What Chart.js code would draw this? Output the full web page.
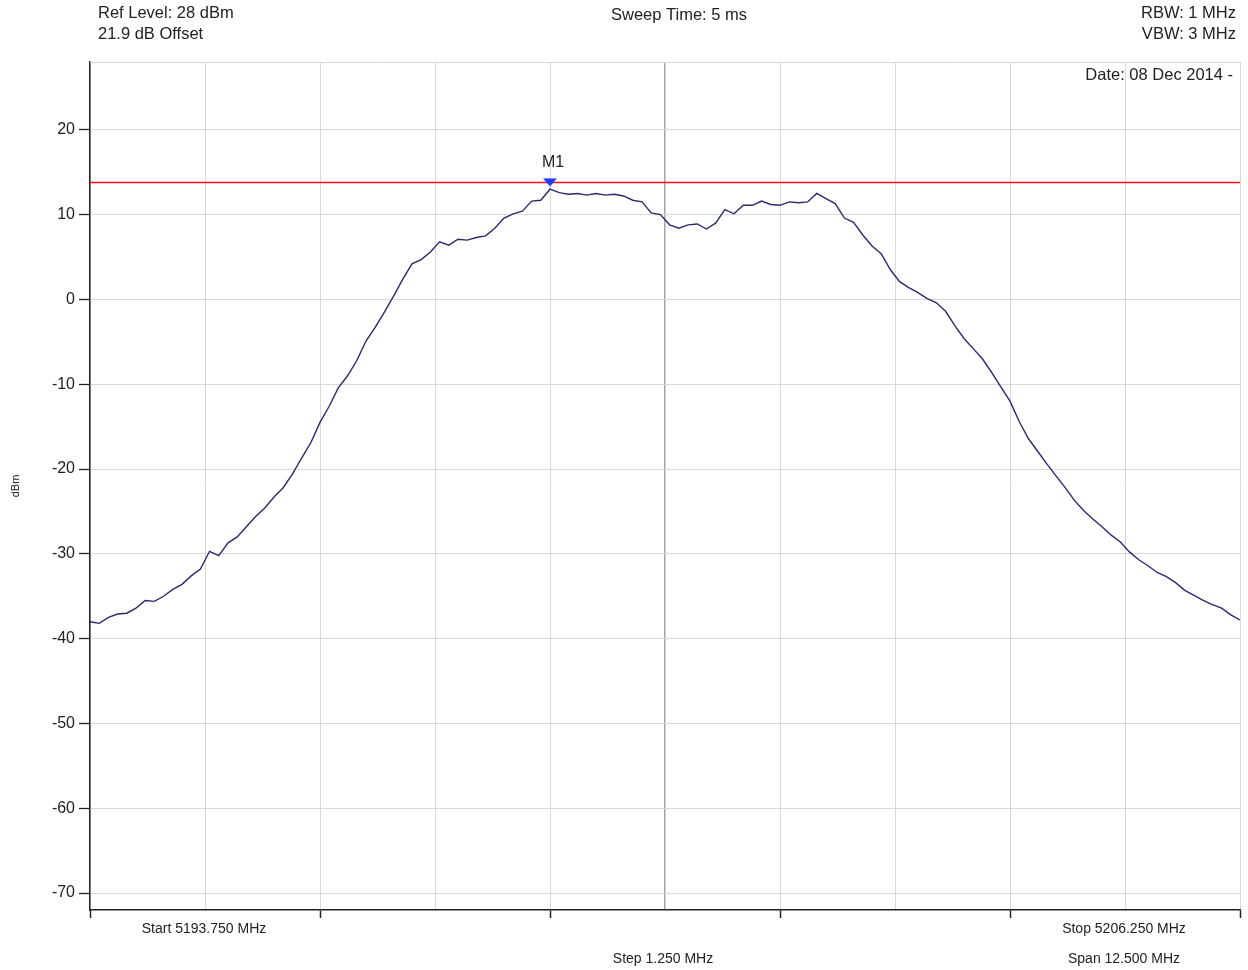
<!DOCTYPE html>
<html>
<head>
<meta charset="utf-8">
<title>Spectrum trace</title>
<script src="https://cdn.jsdelivr.net/npm/chart.js@4.4.1/dist/chart.umd.min.js"></script>
<style>
    html, body { margin: 0; padding: 0; background: #fff; }
    #spectrum { display: block; }
</style>
</head>
<body>
<canvas id="spectrum" width="1248" height="970"></canvas>
<script>
// Sweep settings
const startFreq = 5193.75;
const stopFreq = 5206.25;
const pointStep = 0.1;
const refLevel = 28;
const bottomLevel = -72;

// Measured trace, dBm, one value per pointStep from startFreq
const traceLevels = [
    -38.0, -38.2, -37.5, -37.1, -37.0, -36.4, -35.5, -35.6, -35.0, -34.2,
    -33.6, -32.6, -31.8, -29.7, -30.2, -28.7, -28.0, -26.8, -25.6, -24.6,
    -23.3, -22.2, -20.6, -18.7, -16.9, -14.5, -12.6, -10.4, -9.0, -7.2,
    -4.9, -3.3, -1.5, 0.4, 2.4, 4.2, 4.7, 5.6, 6.8, 6.4,
    7.1, 7.0, 7.3, 7.5, 8.4, 9.6, 10.1, 10.4, 11.6, 11.7,
    13.0, 12.6, 12.4, 12.5, 12.3, 12.5, 12.3, 12.4, 12.2, 11.7,
    11.5, 10.2, 10.0, 8.8, 8.4, 8.8, 8.9, 8.3, 9.0, 10.6,
    10.1, 11.1, 11.1, 11.6, 11.2, 11.1, 11.5, 11.4, 11.5, 12.5,
    11.9, 11.3, 9.6, 9.1, 7.6, 6.3, 5.4, 3.5, 2.1, 1.4,
    0.8, 0.1, -0.4, -1.4, -3.1, -4.6, -5.8, -7.0, -8.6, -10.3,
    -12.0, -14.4, -16.4, -17.9, -19.4, -20.8, -22.2, -23.7, -24.9, -25.9,
    -26.8, -27.8, -28.6, -29.8, -30.7, -31.4, -32.2, -32.7, -33.4, -34.3,
    -34.9, -35.5, -36.0, -36.4, -37.2, -37.8
];

// Axis divisions
const xGridFreqs = [5193.75, 5195, 5196.25, 5197.5, 5198.75, 5200, 5201.25, 5202.5, 5203.75, 5205, 5206.25];
const xMajorFreqs = [5193.75, 5196.25, 5198.75, 5201.25, 5203.75, 5206.25];
const centerFreq = 5200;
const yTickLevels = [20, 10, 0, -10, -20, -30, -40, -50, -60, -70];

// Display line and marker
const displayLine = 13.8;
const markerLevel = 13.8;
const markerName = 'M1';

// Header / footer annotations
const headerLeft = ['Ref Level: 28 dBm', '21.9 dB Offset'];
const headerCenter = 'Sweep Time: 5 ms';
const headerRight = ['RBW: 1 MHz', 'VBW: 3 MHz'];
const dateText = 'Date: 08 Dec 2014 -';
const footerStart = 'Start 5193.750 MHz';
const footerStop = 'Stop 5206.250 MHz';
const footerStep = 'Step 1.250 MHz';
const footerSpan = 'Span 12.500 MHz';

const FONT = '"Liberation Sans", Arial, sans-serif';
const TEXT = '#222';

const tracePoints = traceLevels.map((v, i) => ({ x: startFreq + i * pointStep, y: v }));
const peakIdx = traceLevels.indexOf(Math.max(...traceLevels));
const markerFreq = startFreq + peakIdx * pointStep;

// Flattened down-pointing triangle used as the marker glyph
function makeMarkerGlyph() {
    const c = document.createElement('canvas');
    c.width = 16;
    c.height = 10;
    const g = c.getContext('2d');
    g.fillStyle = '#1f3cf0';
    g.beginPath();
    g.moveTo(1, 1);
    g.lineTo(15, 1);
    g.lineTo(8, 9);
    g.closePath();
    g.fill();
    return c;
}

const annotations = {
    id: 'annotations',
    beforeDatasetsDraw(chart) {
        const { ctx, chartArea } = chart;
        ctx.save();
        ctx.strokeStyle = '#d6d6d6';
        ctx.lineWidth = 1;
        ctx.beginPath();
        ctx.moveTo(chartArea.left, chartArea.top + 0.5);
        ctx.lineTo(chartArea.right, chartArea.top + 0.5);
        ctx.stroke();
        ctx.restore();
    },
    afterDraw(chart) {
        const { ctx, chartArea, scales } = chart;
        ctx.save();
        ctx.fillStyle = TEXT;
        ctx.textBaseline = 'middle';

        ctx.font = '16.5px ' + FONT;
        ctx.textAlign = 'left';
        ctx.fillText(headerLeft[0], 98, 13);
        ctx.fillText(headerLeft[1], 98, 34);

        ctx.textAlign = 'center';
        ctx.fillText(headerCenter, 679, 15);

        ctx.textAlign = 'right';
        ctx.fillText(headerRight[0], 1236, 13);
        ctx.fillText(headerRight[1], 1236, 34);
        ctx.fillText(dateText, chartArea.right - 7, chartArea.top + 13);

        // marker label
        ctx.font = '16px ' + FONT;
        ctx.textAlign = 'center';
        const mx = scales.x.getPixelForValue(markerFreq);
        const my = scales.y.getPixelForValue(markerLevel);
        ctx.fillText(markerName, mx + 3, my - 20);

        // sweep summary under the frequency axis
        ctx.font = '14px ' + FONT;
        ctx.fillText(footerStart, 204, chartArea.bottom + 19);
        ctx.fillText(footerStop, 1124, chartArea.bottom + 19);
        ctx.fillText(footerStep, 663, chartArea.bottom + 49);
        ctx.fillText(footerSpan, 1124, chartArea.bottom + 49);
        ctx.restore();
    }
};

const spectrumChart = new Chart(document.getElementById('spectrum'), {
    type: 'line',
    data: {
        datasets: [{
            label: 'Trace',
            data: tracePoints,
            borderColor: '#2c2970',
            borderWidth: 1.4,
            pointRadius: 0,
            tension: 0,
            order: 2
        }, {
            label: 'Display line',
            data: [{ x: startFreq, y: displayLine }, { x: stopFreq, y: displayLine }],
            borderColor: '#ff1010',
            borderWidth: 1.5,
            pointRadius: 0,
            order: 1
        }, {
            label: markerName,
            data: [{ x: markerFreq, y: markerLevel }],
            showLine: false,
            pointStyle: makeMarkerGlyph(),
            pointRadius: 7,
            order: 0,
            clip: false
        }]
    },
    options: {
        responsive: false,
        animation: false,
        layout: { padding: { left: 0, right: 8, top: 62, bottom: 0 } },
        plugins: {
            legend: { display: false },
            tooltip: { enabled: false }
        },
        scales: {
            x: {
                type: 'linear',
                min: startFreq,
                max: stopFreq,
                afterBuildTicks: (axis) => { axis.ticks = xGridFreqs.map(v => ({ value: v })); },
                afterFit: (axis) => { axis.height = 60; },
                ticks: { display: false },
                grid: {
                    color: (c) => (c.tick && c.tick.value === centerFreq ? '#a4a4a4' : '#d9d9d9'),
                    lineWidth: (c) => (c.tick && c.tick.value === centerFreq ? 1.5 : 1),
                    drawTicks: true,
                    tickLength: 8,
                    tickWidth: 1.5,
                    tickColor: (c) => (c.tick && xMajorFreqs.includes(c.tick.value) ? '#222' : 'rgba(0,0,0,0)')
                },
                border: { display: true, color: '#222', width: 1.5 }
            },
            y: {
                type: 'linear',
                min: bottomLevel,
                max: refLevel,
                afterBuildTicks: (axis) => { axis.ticks = yTickLevels.map(v => ({ value: v })); },
                afterFit: (axis) => { axis.width = 90; },
                ticks: {
                    color: TEXT,
                    padding: 4,
                    font: { family: FONT, size: 16 }
                },
                grid: {
                    color: '#d9d9d9',
                    lineWidth: 1,
                    drawTicks: true,
                    tickLength: 11,
                    tickWidth: 1.3,
                    tickColor: '#222'
                },
                border: { display: true, color: '#222', width: 1.5 },
                title: {
                    display: true,
                    text: 'dBm',
                    color: TEXT,
                    font: { family: FONT, size: 11 },
                    padding: { top: 9, bottom: 0 }
                }
            }
        }
    },
    plugins: [annotations]
});
</script>
</body>
</html>
